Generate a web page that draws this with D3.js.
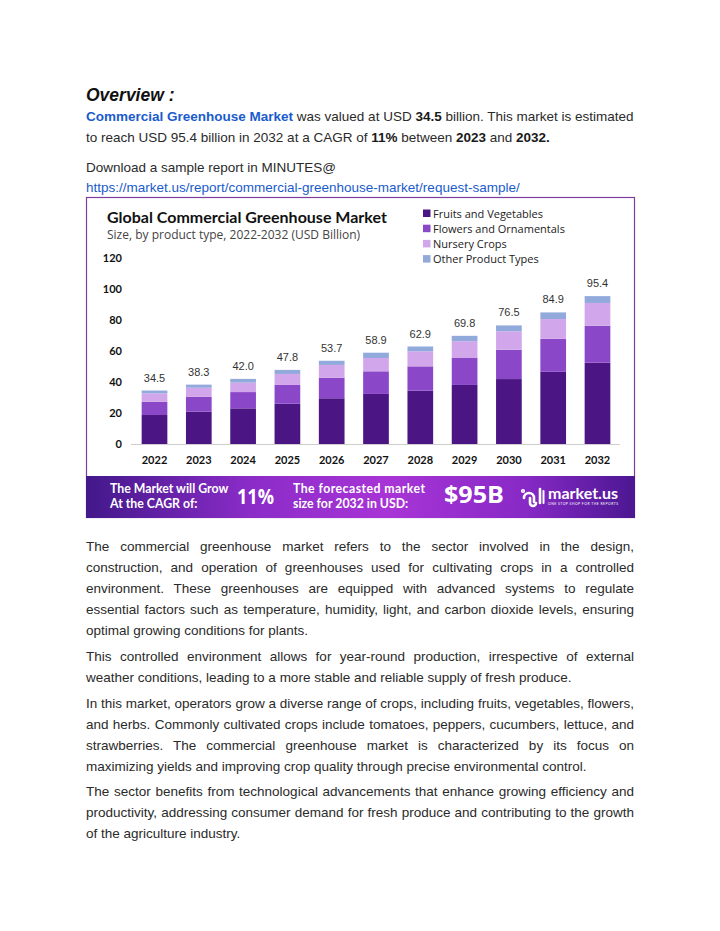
<!DOCTYPE html>
<html>
<head>
<meta charset="utf-8">
<script src="https://cdn.jsdelivr.net/npm/d3@7"></script>
<style>
  html, body { margin:0; padding:0; background:#fff; }
  body { width:720px; height:931px; position:relative; overflow:hidden; font-family:"Liberation Sans", Arial, sans-serif; color:#2a2a2a; }
  .ln { position:absolute; left:86px; width:548px; height:21px; line-height:21px; font-size:13.5px; white-space:nowrap; }
  .j { text-align:justify; text-align-last:justify; white-space:normal; }
  .blue { color:#1a5ccc; }
  b { font-weight:bold; color:#1a1a1a; }
  b.blue { color:#1a5ccc; }
  svg { position:absolute; left:0; top:0; }
</style>
</head>
<body>
<div id="text"></div>
<svg id="chart" width="720" height="931"></svg>
<script>
// ---------- data ----------
const years = ["2022","2023","2024","2025","2026","2027","2028","2029","2030","2031","2032"];
const fruitsVeg   = [18.7, 20.9, 23.0, 26.0, 29.5, 32.3, 34.4, 38.1, 41.9, 46.6, 52.5];
const flowersOrn  = [ 8.6,  9.6, 10.5, 12.1, 13.3, 14.6, 15.7, 17.4, 18.9, 21.3, 23.8];
const nursery     = [ 5.4,  5.8,  6.1,  7.1,  8.2,  8.6,  9.7, 10.8, 11.9, 12.7, 14.7];
const otherTypes  = [ 1.8,  2.0,  2.4,  2.6,  2.7,  3.4,  3.1,  3.5,  3.8,  4.3,  4.4];
const totals      = [34.5, 38.3, 42.0, 47.8, 53.7, 58.9, 62.9, 69.8, 76.5, 84.9, 95.4];
const seriesNames = ["Fruits and Vegetables","Flowers and Ornamentals","Nursery Crops","Other Product Types"];
const seriesColors = ["#4b1683","#8a48c9","#d2a6ea","#92a9dc"];
const yTicks = [0,20,40,60,80,100,120];

// ---------- text ----------
const T = document.getElementById("text");
function line(y, html, cls) {
  const d = document.createElement("div");
  d.className = "ln" + (cls ? " " + cls : "");
  d.style.top = (y - 10.5) + "px";
  d.innerHTML = html;
  T.appendChild(d);
  return d;
}
const ov = line(95, "Overview :");
ov.style.fontSize = "17.5px"; ov.style.fontWeight = "bold"; ov.style.fontStyle = "italic"; ov.style.color = "#111";
line(116, '<b class="blue">Commercial Greenhouse Market</b> was valued at USD <b>34.5</b> billion. This market is estimated');
line(137, 'to reach USD 95.4 billion in 2032 at a CAGR of <b>11%</b> between <b>2023</b> and <b>2032.</b>');
line(167, 'Download a sample report in MINUTES@');
line(187, '<span class="blue">https://market.us/report/commercial-greenhouse-market/request-sample/</span>');

const paras = [
  [546, ["The commercial greenhouse market refers to the sector involved in the design,",
         "construction, and operation of greenhouses used for cultivating crops in a controlled",
         "environment. These greenhouses are equipped with advanced systems to regulate",
         "essential factors such as temperature, humidity, light, and carbon dioxide levels, ensuring",
         "optimal growing conditions for plants."]],
  [656, ["This controlled environment allows for year-round production, irrespective of external",
         "weather conditions, leading to a more stable and reliable supply of fresh produce."]],
  [703, ["In this market, operators grow a diverse range of crops, including fruits, vegetables, flowers,",
         "and herbs. Commonly cultivated crops include tomatoes, peppers, cucumbers, lettuce, and",
         "strawberries. The commercial greenhouse market is characterized by its focus on",
         "maximizing yields and improving crop quality through precise environmental control."]],
  [791, ["The sector benefits from technological advancements that enhance growing efficiency and",
         "productivity, addressing consumer demand for fresh produce and contributing to the growth",
         "of the agriculture industry."]]
];
paras.forEach(([y0, ls]) => {
  ls.forEach((t, i) => line(y0 + i * 21, t, i < ls.length - 1 ? "j" : ""));
});

// ---------- chart ----------
const svg = d3.select("#chart");
const defs = svg.append("defs");
const g1 = defs.append("linearGradient").attr("id","ban").attr("x1","0%").attr("x2","100%");
g1.append("stop").attr("offset","0%").attr("stop-color","#42188a");
g1.append("stop").attr("offset","30%").attr("stop-color","#8b2cc8");
g1.append("stop").attr("offset","55%").attr("stop-color","#a834d6");
g1.append("stop").attr("offset","80%").attr("stop-color","#8729c6");
g1.append("stop").attr("offset","100%").attr("stop-color","#4b1792");

// frame
svg.append("rect").attr("x",86.5).attr("y",197.5).attr("width",548).attr("height",320)
  .attr("fill","#fff").attr("stroke","#7d3f9f").attr("stroke-width",1.2);

// title
svg.append("text").attr("x",107).attr("y",223)
  .attr("font-family","Lato, 'Open Sans', sans-serif").attr("font-weight","bold").attr("font-size",16)
  .attr("fill","#111").text("Global Commercial Greenhouse Market");
svg.append("text").attr("x",107).attr("y",239)
  .attr("font-family","'Open Sans', sans-serif").attr("font-size",12)
  .attr("fill","#444").text("Size, by product type, 2022-2032 (USD Billion)");

// legend
const leg = svg.append("g").attr("font-family","'Open Sans', sans-serif").attr("font-size",11).attr("fill","#222");
seriesNames.forEach((n, i) => {
  const y = 213.5 + i * 15.2;
  leg.append("rect").attr("x",423).attr("y",y-4).attr("width",7.5).attr("height",7.5).attr("fill",seriesColors[i]);
  leg.append("text").attr("x",433).attr("y",y+4).text(n);
});

// scales
const x = d3.scaleBand().domain(years).range([132,620]).paddingInner(0.42).paddingOuter(0.218);
const y = d3.scaleLinear().domain([0,120]).range([444,258]);

// y axis
const ya = svg.append("g").attr("transform","translate(122,0)")
  .call(d3.axisLeft(y).tickValues(yTicks).tickSize(0).tickPadding(0));
ya.select(".domain").remove();
ya.selectAll("text").attr("font-family","Lato, sans-serif").attr("font-weight","bold").attr("font-size",11).attr("fill","#111");

// baseline
svg.append("line").attr("x1",131).attr("x2",620).attr("y1",y(0)+0.5).attr("y2",y(0)+0.5)
  .attr("stroke","#cfcfcf").attr("stroke-width",1);

// stacked bars
const rows = years.map((yr, i) => ({year: yr, s0: fruitsVeg[i], s1: flowersOrn[i], s2: nursery[i], s3: otherTypes[i]}));
const stack = d3.stack().keys(["s0","s1","s2","s3"])(rows);
svg.append("g").selectAll("g").data(stack).join("g")
  .attr("fill", (d, i) => seriesColors[i])
  .selectAll("rect").data(d => d).join("rect")
  .attr("x", d => x(d.data.year))
  .attr("width", x.bandwidth())
  .attr("y", d => y(d[1]))
  .attr("height", d => y(d[0]) - y(d[1]));

// totals labels
svg.append("g").selectAll("text").data(years).join("text")
  .attr("x", d => x(d) + x.bandwidth()/2)
  .attr("y", (d, i) => y(totals[i]) - 9)
  .attr("text-anchor","middle")
  .attr("font-family","'Liberation Sans', Arial, sans-serif").attr("font-size",11)
  .attr("fill","#333")
  .text((d, i) => totals[i].toFixed(1));

// x axis
const xa = svg.append("g").attr("transform","translate(0,"+(y(0)+20)+")")
  .call(d3.axisBottom(x).tickSize(0).tickPadding(0));
xa.select(".domain").remove();
xa.selectAll("text").attr("font-family","Lato, sans-serif").attr("font-weight","bold").attr("font-size",11).attr("fill","#111").attr("dy","0");

// banner
svg.append("rect").attr("x",86).attr("y",476).attr("width",549).attr("height",42).attr("fill","url(#ban)");
const bt = svg.append("g").attr("fill","#fff").attr("font-family","Lato, 'Open Sans', sans-serif").attr("font-weight","bold");
bt.append("text").attr("x",110).attr("y",493).attr("font-size",12.3).text("The Market will Grow");
bt.append("text").attr("x",110).attr("y",507.5).attr("font-size",12.3).text("At the CAGR of:");
bt.append("text").attr("x",237).attr("y",504).attr("font-size",22).attr("font-family","'Open Sans', sans-serif")
  .attr("textLength",37).attr("lengthAdjust","spacingAndGlyphs").text("11%");
bt.append("text").attr("x",293).attr("y",493).attr("font-size",12.3).attr("textLength",132).text("The forecasted market");
bt.append("text").attr("x",293).attr("y",507.5).attr("font-size",12.3).text("size for 2032 in USD:");
bt.append("text").attr("x",444).attr("y",503).attr("font-size",23).attr("font-family","'Open Sans', sans-serif")
  .attr("textLength",60).attr("lengthAdjust","spacingAndGlyphs").text("$95B");
// logo
const lg = svg.append("g").attr("fill","none").attr("stroke","#fff").attr("stroke-width",2.6).attr("stroke-linecap","round");
lg.append("path").attr("d","M524,498 a5,5 0 0 1 10,0 v4");
lg.append("path").attr("d","M530,498 v5 a3,3 0 0 0 6,0");
lg.append("line").attr("x1",540).attr("x2",540).attr("y1",489).attr("y2",503);
lg.append("line").attr("x1",543.5).attr("x2",543.5).attr("y1",491).attr("y2",503).attr("stroke-width",2);
lg.append("circle").attr("cx",523).attr("cy",491).attr("r",0.8);
bt.append("text").attr("x",548).attr("y",498.5).attr("font-size",16).attr("textLength",70).text("market.us");
bt.append("text").attr("x",548).attr("y",504.5).attr("font-size",3.4).attr("font-weight","normal").attr("textLength",70).text("ONE STOP SHOP FOR THE REPORTS");
</script>
</body>
</html>
